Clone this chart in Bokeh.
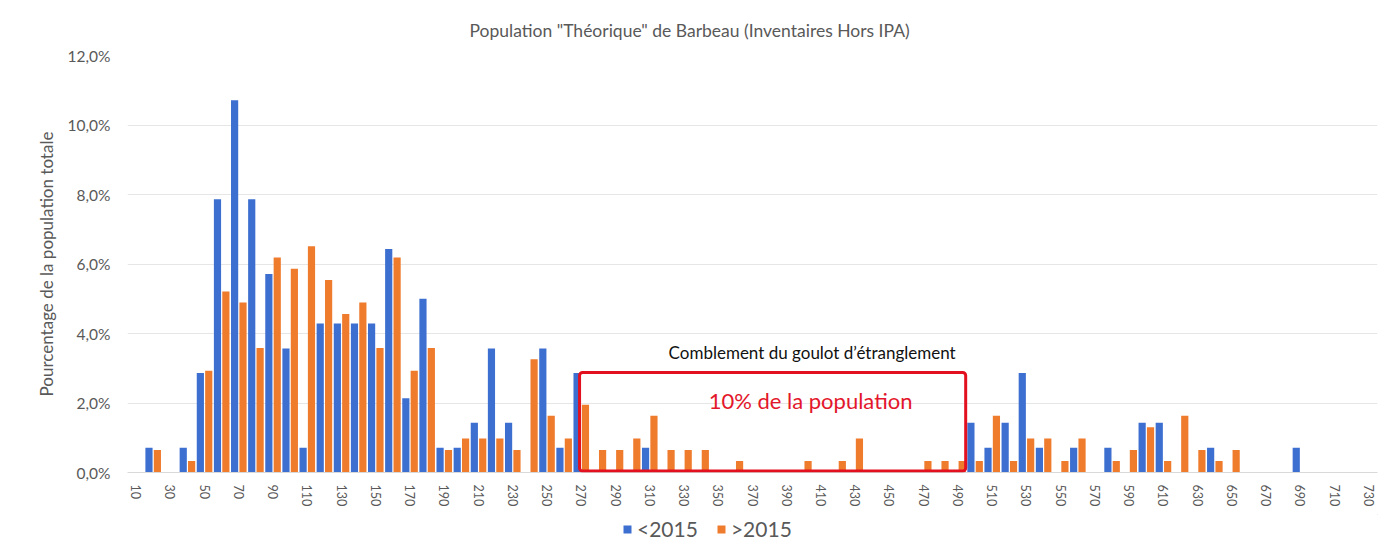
from bokeh.plotting import figure
from bokeh.models import (ColumnDataSource, Range1d, FixedTicker, Legend, LegendItem,
                          BoxAnnotation, Label)
from bokeh.layouts import column
from bokeh.transform import dodge
from bokeh.embed import file_html
from bokeh.resources import INLINE

# ---------------- data ----------------
categories = [10, 20, 30, 40, 50, 60, 70, 80, 90, 100,
              110, 120, 130, 140, 150, 160, 170, 180, 190, 200,
              210, 220, 230, 240, 250, 260, 270, 280, 290, 300,
              310, 320, 330, 340, 350, 360, 370, 380, 390, 400,
              410, 420, 430, 440, 450, 460, 470, 480, 490, 500,
              510, 520, 530, 540, 550, 560, 570, 580, 590, 600,
              610, 620, 630, 640, 650, 660, 670, 680, 690, 700,
              710, 720, 730]

before_2015 = [0, 0.71, 0, 0.71, 2.86, 7.86, 10.71, 7.86, 5.71, 3.57,
               0.71, 4.29, 4.29, 4.29, 4.29, 6.43, 2.14, 5.00, 0.71, 0.71,
               1.43, 3.57, 1.43, 0, 3.57, 0.71, 2.86, 0, 0, 0,
               0.71, 0, 0, 0, 0, 0, 0, 0, 0, 0,
               0, 0, 0, 0, 0, 0, 0, 0, 0, 1.43,
               0.71, 1.43, 2.86, 0.71, 0, 0.71, 0, 0.71, 0, 1.43,
               1.43, 0, 0, 0.71, 0, 0, 0, 0, 0.71, 0,
               0, 0, 0]

after_2015 = [0, 0.65, 0, 0.33, 2.93, 5.21, 4.89, 3.58, 6.19, 5.86,
              6.51, 5.54, 4.56, 4.89, 3.58, 6.19, 2.93, 3.58, 0.65, 0.98,
              0.98, 0.98, 0.65, 3.26, 1.63, 0.98, 1.95, 0.65, 0.65, 0.98,
              1.63, 0.65, 0.65, 0.65, 0, 0.33, 0, 0, 0, 0.33,
              0, 0.33, 0.98, 0, 0, 0, 0.33, 0.33, 0.33, 0.33,
              1.63, 0.33, 0.98, 0.98, 0.33, 0.98, 0, 0.33, 0.65, 1.30,
              0.33, 1.63, 0.65, 0.33, 0.65, 0, 0, 0, 0, 0,
              0, 0, 0]

series_names = ["<2015", ">2015"]
x_tick_values = [10, 30, 50, 70, 90, 110, 130, 150, 170, 190, 210, 230, 250,
                 270, 290, 310, 330, 350, 370, 390, 410, 430, 450, 470, 490,
                 510, 530, 550, 570, 590, 610, 630, 650, 670, 690, 710, 730]
y_tick_values = [0, 2, 4, 6, 8, 10, 12]
y_tick_labels = ["0,0%", "2,0%", "4,0%", "6,0%", "8,0%", "10,0%", "12,0%"]

title_text = 'Population "Théorique" de Barbeau (Inventaires Hors IPA)'
y_label = "Pourcentage de la population totale"
note_text = "Comblement du goulot d\u2019étranglement"
box_text = "10% de la population"

# ---------------- style ----------------
BLUE = "#3D6FD0"
ORANGE = "#EF7B2D"
GREY_TXT = "#595959"
FONT = "Lato"
W = 1392

src = ColumnDataSource(dict(cat=categories, b=before_2015, a=after_2015))

p = figure(width=W, height=514, x_range=Range1d(5, 735), y_range=Range1d(0, 12),
           output_backend="svg", toolbar_location=None,
           min_border_left=127, min_border_right=15, min_border_top=55, min_border_bottom=42)
p.outline_line_color = None
p.background_fill_color = "white"
p.border_fill_color = "white"

p.title.text = title_text
p.title.align = "left"
p.title.vertical_align = "top"
p.title.offset = 342
p.title.standoff = 26
p.title.text_font = FONT
p.title.text_font_size = "17.5px"
p.title.text_font_style = "normal"
p.title.text_color = GREY_TXT

p.vbar(x=dodge("cat", -2.45), top="b", width=4.2, source=src,
       fill_color=BLUE, line_color=None)
p.vbar(x=dodge("cat", 2.45), top="a", width=4.2, source=src,
       fill_color=ORANGE, line_color=None)

# axes
p.xgrid.grid_line_color = None
p.ygrid.grid_line_color = "#E6E6E6"
p.ygrid.grid_line_width = 1

p.yaxis.ticker = FixedTicker(ticks=y_tick_values)
p.yaxis.major_label_overrides = {v: s for v, s in zip(y_tick_values, y_tick_labels)}
p.yaxis.axis_line_color = None
p.yaxis.major_tick_line_color = None
p.yaxis.minor_tick_line_color = None
p.yaxis.major_tick_out = 0
p.yaxis.major_label_standoff = 17
p.yaxis.major_label_text_font = FONT
p.yaxis.major_label_text_font_size = "15.5px"
p.yaxis.major_label_text_color = GREY_TXT
p.yaxis.axis_label = y_label
p.yaxis.axis_label_text_font = FONT
p.yaxis.axis_label_text_font_size = "17px"
p.yaxis.axis_label_text_font_style = "normal"
p.yaxis.axis_label_text_color = GREY_TXT
p.yaxis.axis_label_standoff = 8

p.xaxis.ticker = FixedTicker(ticks=x_tick_values)
p.xaxis.major_label_orientation = "vertical"
p.xaxis.axis_line_color = "#D9D9D9"
p.xaxis.major_tick_line_color = None
p.xaxis.minor_tick_line_color = None
p.xaxis.major_tick_out = 0
p.xaxis.major_label_standoff = 12
p.xaxis.major_label_text_font = FONT
p.xaxis.major_label_text_font_size = "12.5px"
p.xaxis.major_label_text_color = GREY_TXT

# annotations
p.add_layout(BoxAnnotation(left=269, right=494.5, top=2.88, bottom=0.04,
                           fill_alpha=0, line_color="#E3101F", line_alpha=1.0,
                           line_width=3, border_radius=3))
p.add_layout(Label(x=321, y=3.45, text=note_text, text_align="left",
                   text_baseline="middle", text_font=FONT, text_font_size="17px",
                   text_color="#111111"))
p.add_layout(Label(x=344.4, y=2.07, text=box_text, text_align="left",
                   text_baseline="middle", text_font=FONT, text_font_size="22px",
                   text_color="#E3162B"))

# ---- legend strip (separate small figure below the chart, frames aligned) ----
lg = figure(width=W, height=30, x_range=Range1d(0, 1), y_range=Range1d(0, 1),
            output_backend="svg", toolbar_location=None,
            x_axis_location=None, y_axis_location=None,
            min_border_left=0, min_border_right=0, min_border_top=0, min_border_bottom=0)
lg.outline_line_color = None
lg.grid.grid_line_color = None
# swatch renderers: their single bar lies outside the visible range
lr1 = lg.vbar(x=[5], top=[6], bottom=[5], width=1, fill_color=BLUE, line_color=None)
lr2 = lg.vbar(x=[5], top=[6], bottom=[5], width=1, fill_color=ORANGE, line_color=None)
legend = Legend(items=[LegendItem(label=series_names[0], renderers=[lr1]),
                       LegendItem(label=series_names[1], renderers=[lr2])],
                orientation="horizontal", location=(495, 3),
                padding=0, margin=0, spacing=18, label_standoff=5,
                glyph_width=10, glyph_height=10,
                label_text_font=FONT, label_text_font_size="21px",
                label_text_color=GREY_TXT, border_line_color=None,
                background_fill_alpha=0)
lg.add_layout(legend, "center")

open("out.html", "w").write(file_html(column(p, lg, spacing=0), INLINE))
